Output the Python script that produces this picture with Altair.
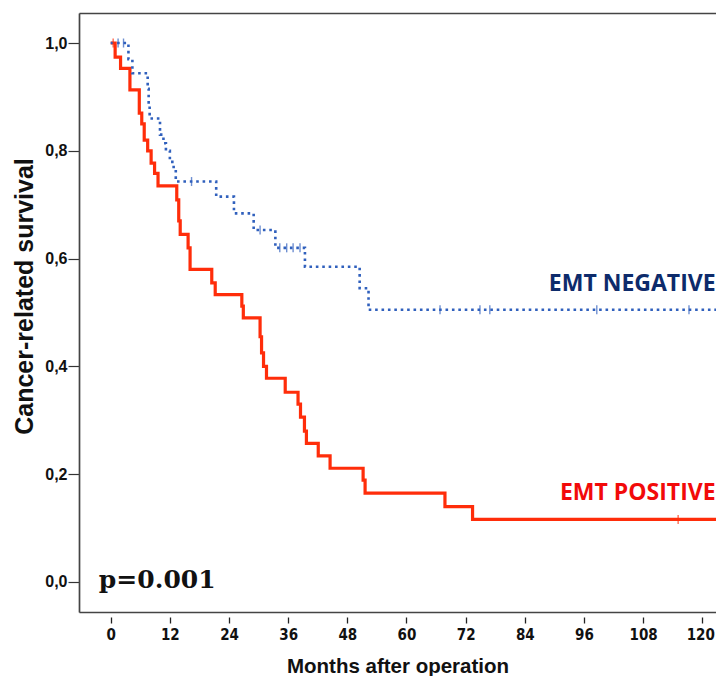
import altair as alt
import pandas as pd

# ---- data ----
red_t = [0, 0.9, 2.0, 3.9, 5.8, 6.3, 6.8, 7.5, 8.2, 8.9, 9.6, 13.4, 13.8, 14.1, 15.7,
         16.1, 20.5, 21.2, 26.6, 26.9, 30.3, 30.6, 31.0, 31.6, 35.4, 38.0, 38.5, 39.3,
         39.7, 42.1, 44.5, 51.2, 51.6, 67.8, 73.4, 126]
red_s = [1.0, 0.974, 0.953, 0.913, 0.87, 0.85, 0.82, 0.80, 0.777, 0.758, 0.735, 0.709,
         0.67, 0.645, 0.62, 0.58, 0.555, 0.533, 0.512, 0.49, 0.455, 0.425, 0.40, 0.378,
         0.352, 0.33, 0.306, 0.28, 0.257, 0.234, 0.211, 0.189, 0.165, 0.14, 0.116, 0.116]

blue_t = [0, 3.6, 4.4, 7.5, 7.7, 7.9, 10.0, 10.7, 11.2, 12.0, 12.5, 13.2, 21.4, 25.0,
          29.0, 33.4, 39.4, 50.5, 52.3, 126]
blue_s = [1.0, 0.97, 0.944, 0.915, 0.886, 0.86, 0.83, 0.814, 0.80, 0.783, 0.77, 0.743,
          0.715, 0.684, 0.653, 0.62, 0.585, 0.545, 0.505, 0.505]

red_cens_t = [0.5, 115.1]
red_cens_s = [1.0, 0.116]
blue_cens_t = [1.5, 2.6, 16.4, 30.3, 34.3, 35.7, 37.0, 38.4, 66.8, 74.9, 76.9, 98.6, 117.3]
blue_cens_s = [1.0, 1.0, 0.743, 0.653, 0.62, 0.62, 0.62, 0.62, 0.505, 0.505, 0.505, 0.505, 0.505]

x_ticks = [0, 12, 24, 36, 48, 60, 72, 84, 96, 108, 120]
y_ticks = [0.0, 0.2, 0.4, 0.6, 0.8, 1.0]

label_texts = ["EMT NEGATIVE", "EMT POSITIVE"]
label_x = [122.7, 122.7]
label_y = [0.552, 0.166]
p_text = ["p=0.001"]
p_x = [-2.4]
p_y = [-0.011]

X_DOMAIN = [-6.43, 122.78]
Y_DOMAIN = [-0.0557, 1.0557]

RED = "#ff2d0a"
BLUE = "#3060bd"
NAVY = "#0d2b6b"
TEXT_RED = "#f20a0a"
FRAME = "#444444"

red_df = pd.DataFrame({"t": red_t, "s": red_s})
blue_df = pd.DataFrame({"t": blue_t, "s": blue_s})
red_c = pd.DataFrame({"t": red_cens_t, "s": red_cens_s})
blue_c = pd.DataFrame({"t": blue_cens_t, "s": blue_cens_s})
lab_df = pd.DataFrame({"txt": label_texts, "x": label_x, "y": label_y})
p_df = pd.DataFrame({"txt": p_text, "x": p_x, "y": p_y})

xs = alt.Scale(domain=X_DOMAIN, nice=False, zero=False)
ys = alt.Scale(domain=Y_DOMAIN, nice=False, zero=False)

x_main_axis = alt.Axis(
    orient="bottom", offset=5, domain=False, values=x_ticks, tickSize=6,
    tickColor="#222", tickWidth=1.3,
    labelFont="DejaVu Sans Condensed, DejaVu Sans",
    labelFontWeight="bold", labelFontSize=15, labelColor="#111", labelPadding=4,
    labelOffset=alt.ExprRef(expr="datum.value == 120 ? -2 : 0"),
    grid=False, title="Months after operation", titleFont="Liberation Sans",
    titleFontWeight="bold", titleFontSize=20.5, titleColor="#111", titleY=55,
    titleBaseline="alphabetic")
x_top_axis = alt.Axis(orient="top", domain=True, domainColor=FRAME, domainWidth=1.7,
                      ticks=False, labels=False, grid=False, title=None)
x_bottom_frame = alt.Axis(orient="bottom", offset=0, domain=True, domainColor=FRAME,
                          domainWidth=1.7, ticks=False, labels=False, grid=False, title=None)
y_axis = alt.Axis(
    orient="left", values=y_ticks, domain=True, domainColor=FRAME, domainWidth=1.7,
    tickSize=11, tickColor="#333", tickWidth=1.2, grid=False,
    labelExpr="replace(format(datum.value, '.1f'), '.', ',')",
    labelFont="Liberation Sans", labelFontWeight="bold", labelFontSize=16,
    labelColor="#111", labelPadding=1,
    title="Cancer-related survival", titleFont="Liberation Sans", titleFontWeight="bold",
    titleFontSize=25, titleColor="#111", titleX=-55, titleY=283, titleAngle=270,
    titleAlign="center", titleBaseline="middle")

red_line = alt.Chart(red_df).mark_line(
    color=RED, strokeWidth=3.2, interpolate="step-after", clip=True
).encode(
    x=alt.X("t:Q", scale=xs, axis=x_main_axis),
    y=alt.Y("s:Q", scale=ys, axis=y_axis),
)

blue_line = alt.Chart(blue_df).mark_line(
    color=BLUE, strokeWidth=2.6, strokeDash=[2.6, 3.8], interpolate="step-after", clip=True
).encode(
    x=alt.X("t:Q", scale=xs, axis=x_top_axis),
    y=alt.Y("s:Q", scale=ys, axis=None),
)

red_cens = alt.Chart(red_c).mark_tick(
    color=RED, orient="vertical", size=9, thickness=1.4
).encode(
    x=alt.X("t:Q", scale=xs, axis=x_bottom_frame),
    y=alt.Y("s:Q", scale=ys, axis=None),
)

blue_cens = alt.Chart(blue_c).mark_tick(
    color=BLUE, orient="vertical", size=9, thickness=1.4
).encode(
    x=alt.X("t:Q", scale=xs, axis=None),
    y=alt.Y("s:Q", scale=ys, axis=None),
)

labels = alt.Chart(lab_df).mark_text(
    align="right", baseline="middle", font="Open Sans", fontWeight="bold", fontSize=23
).encode(
    x=alt.X("x:Q", scale=xs, axis=None),
    y=alt.Y("y:Q", scale=ys, axis=None),
    text="txt:N",
    color=alt.Color("txt:N", scale=alt.Scale(domain=label_texts, range=[NAVY, TEXT_RED]),
                    legend=None),
)

p_label = alt.Chart(p_df).mark_text(
    align="left", baseline="alphabetic", font="DejaVu Serif", fontWeight="bold",
    fontSize=25, color="#111"
).encode(
    x=alt.X("x:Q", scale=xs, axis=None),
    y=alt.Y("y:Q", scale=ys, axis=None),
    text="txt:N",
)

chart = alt.layer(
    red_line, blue_line, red_cens, blue_cens, labels, p_label
).resolve_axis(x="independent", y="independent").properties(
    width=637, height=599,
    autosize=alt.AutoSizeParams(type="none"),
    padding={"left": 71, "top": 5, "right": 0, "bottom": 64},
).configure_view(stroke=None).configure(background="white")

chart.save("out.html", embed_options={"renderer": "svg", "actions": False})
